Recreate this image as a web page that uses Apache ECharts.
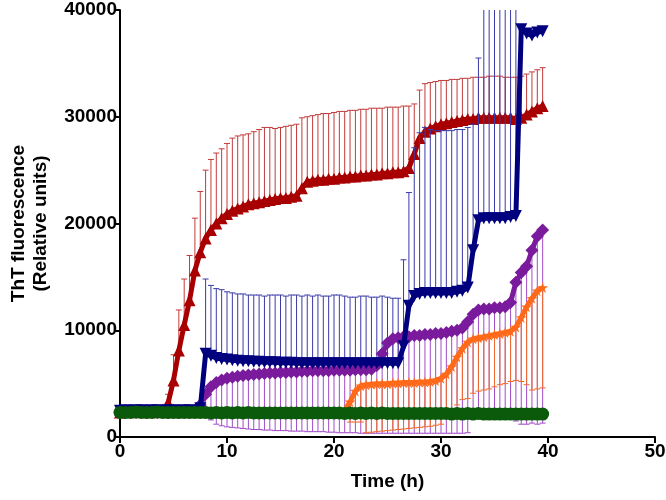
<!DOCTYPE html>
<html><head><meta charset="utf-8">
<script src="https://cdn.jsdelivr.net/npm/echarts@6/dist/echarts.min.js"></script>
<style>html,body{margin:0;padding:0;background:#fff}#c{width:666px;height:500px}</style>
</head><body><div id="c"></div>
<script>
const times = [0,0.5,1,1.5,2,2.5,3,3.5,4,4.5,5,5.5,6,6.5,7,7.5,8,8.5,9,9.5,
10,10.5,11,11.5,12,12.5,13,13.5,14,14.5,15,15.5,16,16.5,17,17.5,18,18.5,19,19.5,
20,20.5,21,21.5,22,22.5,23,23.5,24,24.5,25,25.5,26,26.5,27,27.5,28,28.5,29,29.5,
30,30.5,31,31.5,32,32.5,33,33.5,34,34.5,35,35.5,36,36.5,37,37.5,38,38.5,39,39.5];

const xTicks = [0,10,20,30,40,50];
const yTicks = [0,10000,20000,30000,40000];

const redMean = [2300,2350,2350,2400,2400,2400,2450,2450,2500,3200,
5300,8100,10500,12800,15600,17300,18600,19400,20000,20500,
20900,21200,21400,21600,21800,21900,22000,22100,22200,22300,
22400,22400,22500,22600,23300,23900,24000,24100,24100,24200,
24200,24300,24300,24400,24400,24500,24500,24600,24600,24700,
24700,24800,24800,24900,25200,26500,28000,28600,28900,29100,
29300,29400,29500,29600,29700,29800,29800,29900,29900,29900,
29900,29900,29900,29900,29800,29900,30200,30500,30800,31000];
const redTop = [2600,2650,2650,2700,2700,2700,2750,2750,2800,4000,
7700,11900,14800,17000,20500,23000,25000,26000,26600,27000,
27500,28000,28200,28300,28400,28600,28800,29000,29000,28900,
29000,29100,29200,29300,29900,30000,30100,30200,30300,30300,
30400,30500,30500,30600,30600,30700,30700,30800,30800,30800,
30900,30900,30900,31000,31000,31200,32500,33100,33200,33300,
33400,33400,33500,33500,33600,33600,33700,33700,33700,33800,
33800,33800,33700,33700,33700,33800,34000,34200,34400,34600];

const blueMean = [2450,2500,2450,2500,2500,2450,2500,2500,2450,2500,
2500,2450,2500,2500,2450,2700,7800,7600,7400,7300,
7250,7200,7150,7100,7100,7050,7050,7000,7000,7000,
6950,6950,6950,6900,6900,6900,6900,6900,6900,6900,
6900,6900,6900,6900,6900,6900,6900,6900,6900,6900,
6900,6900,6900,8500,12300,13200,13400,13500,13500,13500,
13500,13500,13500,13600,13700,14000,17500,20300,20500,20500,
20500,20500,20500,20600,20700,38200,37800,37600,37900,38000];
const blueTop = [2750,2800,2750,2800,2800,2750,2800,2800,2750,2800,
2800,2750,2800,2800,2750,3000,14800,14200,13900,13800,
13600,13500,13400,13400,13300,13300,13300,13200,13300,13300,
13300,13200,13300,13300,13200,13300,13200,13300,13200,13200,
13300,13300,13200,13100,13100,13200,13200,13100,13100,13200,
13100,13000,13000,16600,22900,27100,28500,29000,28800,28700,
28700,28700,28700,28800,28800,29000,29300,35500,52000,55000,
58000,60000,60000,60000,60000,38500,38100,37900,38200,38300];

const purpleMean = [2300,2300,2350,2300,2350,2300,2350,2300,2350,2300,
2350,2300,2350,2350,2400,3000,4000,4700,5100,5350,
5500,5600,5700,5750,5800,5850,5900,5950,6000,6000,
6050,6050,6100,6100,6150,6150,6200,6200,6200,6200,
6250,6250,6250,6250,6300,6300,6300,6350,6700,7800,
8800,9200,9300,9400,9400,9500,9500,9600,9600,9700,
9700,9800,9900,10000,10200,10800,11500,11900,12000,12000,
12100,12100,12200,12600,14500,15400,16000,17500,18800,19400];
const purpleBottom = [1800,1800,1850,1800,1850,1800,1850,1800,1850,1800,
1850,1800,1850,1850,1900,2100,2000,1600,1200,1050,
950,900,850,800,750,700,700,650,650,600,
600,600,550,550,550,500,500,500,500,450,
450,400,400,400,400,350,350,350,350,350,
350,350,350,350,350,350,350,350,350,350,
350,350,350,350,350,400,2000,2000,2000,2000,
2000,2000,2000,2000,1500,1200,1200,1300,1200,1300];

const orangeMean = [2200,2200,2250,2200,2250,2200,2250,2200,2250,2200,
2250,2200,2250,2200,2250,2200,2250,2200,2250,2200,
2250,2200,2250,2200,2250,2200,2250,2200,2250,2200,
2250,2200,2250,2200,2250,2200,2250,2200,2250,2200,
2250,2200,2500,3300,4300,4800,4900,4950,5000,5000,
5000,5050,5050,5100,5100,5100,5150,5150,5200,5300,
5500,5900,6600,7500,8300,8900,9200,9300,9400,9500,
9600,9700,9800,9900,10300,11200,12200,13000,13700,14000];
const orangeBottom = [2000,2000,2050,2000,2050,2000,2050,2000,2050,2000,
2050,2000,2050,2000,2050,2000,2050,2000,2050,2000,
2050,2000,2050,2000,2050,2000,2050,2000,2050,2000,
2050,2000,2050,2000,2050,2000,2050,2000,2050,2000,
2050,2000,1800,1400,1400,1400,400,450,500,550,
600,650,700,750,800,850,900,950,1000,1100,
1200,1800,2300,3000,3500,3600,4100,4300,4400,4500,
4700,4900,5000,5200,5300,5200,4900,4400,4500,4600];

const greenMean = [2300,2300,2300,2350,2300,2300,2300,2350,2300,2300,
2300,2300,2300,2300,2300,2300,2300,2250,2300,2250,
2300,2250,2300,2250,2300,2250,2250,2250,2250,2250,
2250,2250,2250,2250,2250,2250,2250,2250,2250,2250,
2250,2250,2200,2250,2200,2250,2200,2250,2200,2250,
2200,2200,2200,2200,2200,2200,2200,2200,2200,2200,
2200,2200,2150,2200,2150,2200,2150,2200,2150,2150,
2150,2150,2150,2150,2150,2150,2150,2150,2150,2150];

const FONT = 'Liberation Sans, Arial, sans-serif';

function pairs(arr){ return times.map((t,i)=>[t, arr[i]]); }

function errSeries(mean, end, color, z){
  return {
    type:'custom', z:z, clip:true, silent:true,
    data: times.map((t,i)=>[t, mean[i], end[i]]),
    renderItem: function(params, api){
      const a = api.coord([api.value(0), api.value(1)]);
      const b = api.coord([api.value(0), api.value(2)]);
      const hw = 3;
      return {type:'group', children:[
        {type:'line', shape:{x1:a[0],y1:a[1],x2:b[0],y2:b[1]}, style:{stroke:color, lineWidth:1}},
        {type:'line', shape:{x1:b[0]-hw,y1:b[1],x2:b[0]+hw,y2:b[1]}, style:{stroke:color, lineWidth:1}}
      ]};
    }
  };
}

function lineSeries(arr, color, symbol, size, z, rot){
  return {
    type:'line', z:z, data: pairs(arr), symbol: symbol, symbolSize: size,
    symbolRotate: rot || 0, showSymbol:true, showAllSymbol:true,
    lineStyle:{color:color, width:5}, itemStyle:{color:color, borderWidth:0}
  };
}

const star = 'path://M50,0 L61,35 L98,35 L68,57 L79,91 L50,70 L21,91 L32,57 L2,35 L39,35 Z';

const chart = echarts.init(document.getElementById('c'));
chart.setOption({
  animation:false,
  backgroundColor:'#fff',
  grid:{left:120, right:11, top:10, bottom:63, containLabel:false, outerBoundsMode:'none'},
  xAxis:{
    type:'value', min:xTicks[0], max:xTicks[xTicks.length-1], interval:10,
    name:'Time (h)', nameLocation:'middle', nameGap:35,
    nameTextStyle:{fontFamily:FONT, fontWeight:'bold', fontSize:19, color:'#000'},
    axisLine:{lineStyle:{color:'#000', width:2}},
    axisTick:{length:6, lineStyle:{color:'#000', width:2}},
    axisLabel:{fontFamily:FONT, fontWeight:'bold', fontSize:19, color:'#000', margin:5},
    splitLine:{show:false}
  },
  yAxis:{
    type:'value', min:yTicks[0], max:yTicks[yTicks.length-1], interval:10000,
    name:'ThT fluorescence\n(Relative units)', nameLocation:'middle', nameGap:68,
    nameTextStyle:{fontFamily:FONT, fontWeight:'bold', fontSize:19, color:'#000', lineHeight:22},
    axisLine:{show:true, lineStyle:{color:'#000', width:2}},
    axisTick:{show:true, length:6, lineStyle:{color:'#000', width:2}},
    axisLabel:{fontFamily:FONT, fontWeight:'bold', fontSize:19, color:'#000', margin:3,
      formatter: v => String(v)},
    splitLine:{show:false}
  },
  series:[
    errSeries(redMean, redTop, '#c23b3b', 1),
    errSeries(purpleMean, purpleBottom, '#a24cc8', 1),
    errSeries(orangeMean, orangeBottom, '#f26a2a', 1),
    lineSeries(redMean, '#a80000', 'triangle', 12, 2),
    errSeries(blueMean, blueTop, '#3a3aa8', 3),
    lineSeries(purpleMean, '#7a1a9c', 'diamond', 13, 4),
    lineSeries(orangeMean, '#ff6a1a', star, 11, 5),
    lineSeries(blueMean, '#00007f', 'triangle', 12, 6, 180),
    lineSeries(greenMean, '#0b5a0b', 'circle', 13, 7)
  ]
});
</script></body></html>
